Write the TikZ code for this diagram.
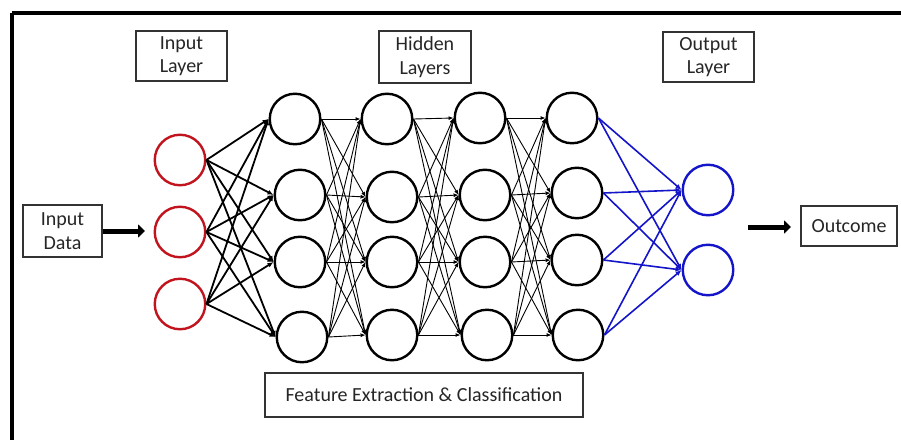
\documentclass[tikz,border=0pt]{standalone}
\usepackage{fontspec}
\setmainfont{Carlito}
\usetikzlibrary{arrows.meta}
\definecolor{inred}{RGB}{192,20,30}
\definecolor{outblue}{RGB}{20,20,200}
\tikzset{
  neuron/.style={circle,draw=black,line width=2.4pt,minimum size=50.5pt,inner sep=0pt},
  inneuron/.style={neuron,draw=inred},
  outneuron/.style={neuron,draw=outblue},
  lbl/.style={draw=black!80,line width=1.1pt,align=center,inner sep=0pt,font=\fontsize{20}{23.5}\selectfont,text=black!85},
  thickcon/.style={line width=1.8pt,-{Latex[length=6pt,width=5pt]}},
  thincon/.style={line width=0.9pt,-{Latex[length=5pt,width=4pt]}},
  bluecon/.style={draw=outblue,line width=1.6pt,-{Latex[length=6pt,width=5pt]}},
  bigarrow/.style={line width=5pt,-{Triangle[length=7pt,width=13pt]}},
}
\begin{document}
\begin{tikzpicture}[x=1pt,y=-1pt]
\useasboundingbox (0,0) rectangle (901,439);
\fill[white] (0,0) rectangle (901,439);
\draw[line width=4.5pt] (12,13) -- (910,13);
\draw[line width=4.5pt] (12,13) -- (12,450);
% labels
\node[lbl,minimum width=91pt,minimum height=50pt] (lin) at (181.5,56) {Input\\Layer};
\node[lbl,minimum width=92pt,minimum height=52pt] (lhid) at (425,57) {Hidden\\Layers};
\node[lbl,minimum width=91pt,minimum height=50pt] (lout) at (708.5,57) {Output\\Layer};
\node[lbl,minimum width=79pt,minimum height=52pt] (ldata) at (62.5,231) {Input\\Data};
\node[lbl,minimum width=96pt,minimum height=40pt] (loutc) at (849,226) {Outcome};
\node[lbl,minimum width=318pt,minimum height=44pt] (lfeat) at (424,395) {Feature Extraction \& Classification};
% neurons
\node[inneuron] (i1) at (180,160) {};
\node[inneuron] (i2) at (180,232) {};
\node[inneuron] (i3) at (180,304) {};
\node[neuron] (a1) at (295,119) {};
\node[neuron] (a2) at (300,195) {};
\node[neuron] (a3) at (300,262) {};
\node[neuron] (a4) at (302,337) {};
\node[neuron] (b1) at (387,119) {};
\node[neuron] (b2) at (392,197) {};
\node[neuron] (b3) at (392,262) {};
\node[neuron] (b4) at (392,335) {};
\node[neuron] (c1) at (480,118) {};
\node[neuron] (c2) at (485,195) {};
\node[neuron] (c3) at (485,262) {};
\node[neuron] (c4) at (487,335) {};
\node[neuron] (d1) at (572,118) {};
\node[neuron] (d2) at (577,193) {};
\node[neuron] (d3) at (577,260) {};
\node[neuron] (d4) at (578,335) {};
\node[outneuron] (o1) at (708,190) {};
\node[outneuron] (o2) at (708,270) {};
% connections
\foreach \s in {i1,i2,i3}
  \foreach \t in {a1,a2,a3,a4}
    \draw[thickcon] (\s.east) -- (\t.west);
\foreach \s/\t in {a/b,b/c,c/d}
  \foreach \p in {1,2,3,4}
    \foreach \q in {1,2,3,4}
      \draw[thincon] (\s\p.east) -- (\t\q.west);
\foreach \s in {d1,d2,d3,d4}
  \foreach \t in {o1,o2}
    \draw[bluecon] (\s.east) -- (\t.west);
% big arrows
\coordinate (inend) at (145,231);
\draw[bigarrow] (ldata.east) -- (inend);
\coordinate (outstart) at (748,227);
\coordinate (outend) at (791,227);
\draw[bigarrow] (outstart) -- (outend);
\end{tikzpicture}
\end{document}
